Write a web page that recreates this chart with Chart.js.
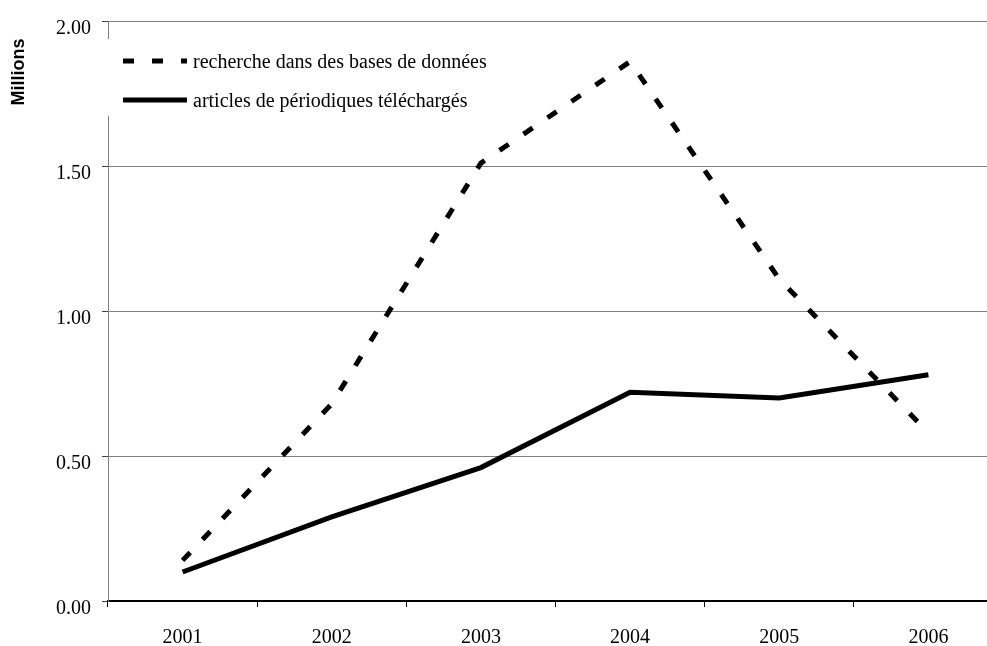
<!DOCTYPE html>
<html>
<head>
<meta charset="utf-8">
<script src="https://cdn.jsdelivr.net/npm/chart.js@4/dist/chart.umd.min.js"></script>
<style>
  html, body { margin: 0; padding: 0; background: #fff; overflow: hidden; }
  #wrap { width: 987px; height: 646px; overflow: hidden; position: relative; }
  #c { display: block; }
</style>
</head>
<body>
<div id="wrap"><canvas id="c" width="1003" height="646"></canvas></div>
<script>
const categories = ['2001', '2002', '2003', '2004', '2005', '2006'];
const seriesNames = ['recherche dans des bases de données', 'articles de périodiques téléchargés'];
const recherche = [0.14, 0.68, 1.51, 1.86, 1.11, 0.58];
const articles = [0.10, 0.29, 0.46, 0.72, 0.70, 0.78];
const axisTitle = 'Millions';

const serif = '"Liberation Serif", "Times New Roman", serif';
const sans = '"Liberation Sans", Arial, sans-serif';

const extras = {
  id: 'extras',
  afterDraw(chart) {
    const ctx = chart.ctx;
    const ds = chart.data.datasets;
    ctx.save();
    // y-axis title
    ctx.save();
    ctx.translate(19, 72);
    ctx.rotate(-Math.PI / 2);
    ctx.font = 'bold 18px ' + sans;
    ctx.fillStyle = '#000';
    ctx.textAlign = 'center';
    ctx.textBaseline = 'middle';
    ctx.fillText(axisTitle, 0, 0);
    ctx.restore();
    // legend box
    ctx.fillStyle = '#fff';
    ctx.fillRect(100, 39, 395, 77);
    const rows = [68, 107];
    const lines = [61, 100];
    ds.forEach((d, i) => {
      ctx.save();
      ctx.beginPath();
      ctx.rect(123, lines[i] - 5, 64, 10);
      ctx.clip();
      ctx.strokeStyle = '#000';
      ctx.lineWidth = 5;
      ctx.lineCap = 'butt';
      ctx.setLineDash(d.borderDash || []);
      ctx.beginPath();
      ctx.moveTo(123, lines[i]);
      ctx.lineTo(187, lines[i]);
      ctx.stroke();
      ctx.restore();
      ctx.font = '20px ' + serif;
      ctx.fillStyle = '#000';
      ctx.textAlign = 'left';
      ctx.textBaseline = 'alphabetic';
      ctx.fillText(d.label, 193, rows[i]);
    });
    ctx.restore();
  }
};

new Chart(document.getElementById('c'), {
  type: 'line',
  data: {
    labels: categories,
    datasets: [
      {
        label: seriesNames[0],
        data: recherche,
        borderColor: '#000',
        borderWidth: 5,
        borderDash: [11, 18],
        borderCapStyle: 'butt',
        pointRadius: 0,
        tension: 0,
        fill: false
      },
      {
        label: seriesNames[1],
        data: articles,
        borderColor: '#000',
        borderWidth: 5,
        borderCapStyle: 'butt',
        pointRadius: 0,
        tension: 0,
        fill: false
      }
    ]
  },
  options: {
    responsive: false,
    animation: false,
    devicePixelRatio: 1,
    layout: { padding: { left: 0, right: 0, top: 21, bottom: 0 } },
    plugins: {
      legend: { display: false },
      tooltip: { enabled: false }
    },
    scales: {
      x: {
        type: 'category',
        offset: true,
        grid: {
          offset: true,
          drawOnChartArea: false,
          drawTicks: true,
          tickLength: 6,
          tickColor: '#000',
          color: '#000'
        },
        border: { display: true, color: '#000', width: 2 },
        ticks: {
          color: '#000',
          font: { family: serif, size: 20 },
          padding: 19,
          maxRotation: 0
        },
        afterFit(scale) { scale.height = 45; }
      },
      y: {
        min: 0,
        max: 2,
        ticks: {
          stepSize: 0.5,
          color: '#000',
          font: { family: serif, size: 20 },
          padding: 11,
          labelOffset: 8,
          callback: (v) => Number(v).toFixed(2)
        },
        grid: {
          color: (c) => (c.tick && c.tick.value === 0 ? '#000' : '#808080'),
          lineWidth: 1,
          tickLength: 6,
          tickColor: '#404040'
        },
        border: { display: true, color: '#808080', width: 1 },
        afterFit(scale) {
          scale.width = 108;
          scale.paddingTop = 0;
          scale.paddingBottom = 0;
        }
      }
    }
  },
  plugins: [extras]
});
</script>
</body>
</html>
